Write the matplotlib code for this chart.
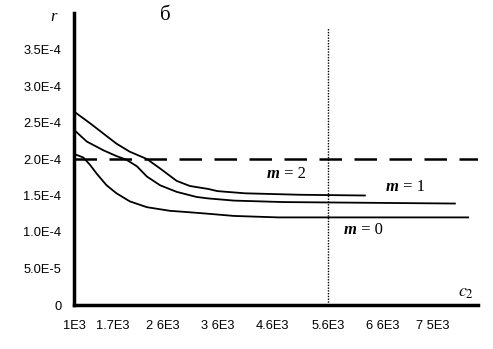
import matplotlib
matplotlib.use("Agg")
import matplotlib.pyplot as plt

# ---- data ----
m0_x = [1000, 1170, 1290, 1410, 1590, 1770, 2010, 2320, 2740, 3100, 3430, 3900, 4700, 8140]
m0_y = [2.07e-4, 2.02e-4, 1.92e-4, 1.80e-4, 1.64e-4, 1.53e-4, 1.42e-4, 1.34e-4, 1.29e-4,
        1.27e-4, 1.25e-4, 1.22e-4, 1.20e-4, 1.20e-4]
m1_x = [1000, 1230, 1530, 1770, 1950, 2140, 2320, 2560, 2860, 3220, 3430, 3900, 4800, 7900]
m1_y = [2.40e-4, 2.24e-4, 2.12e-4, 2.04e-4, 1.99e-4, 1.90e-4, 1.76e-4, 1.64e-4, 1.55e-4,
        1.48e-4, 1.46e-4, 1.43e-4, 1.41e-4, 1.39e-4]
m2_x = [1000, 1290, 1530, 1770, 2010, 2320, 2560, 2860, 3100, 3430, 3600, 4100, 5100, 6270]
m2_y = [2.65e-4, 2.49e-4, 2.35e-4, 2.21e-4, 2.10e-4, 2.00e-4, 1.87e-4, 1.70e-4, 1.63e-4,
        1.59e-4, 1.56e-4, 1.53e-4, 1.51e-4, 1.50e-4]
threshold_r = 2.0e-4
marker_c2 = 5600
x_ticks = [1000, 1700, 2600, 3600, 4600, 5600, 6600, 7500]
x_tick_labels = ["1E3", "1.7E3", "2 6E3", "3 6E3", "4.6E3", "5.6E3", "6 6E3", "7 5E3"]
y_ticks = [0, 5.0e-5, 1.0e-4, 1.5e-4, 2.0e-4, 2.5e-4, 3.0e-4, 3.5e-4]
y_tick_labels = ["0", "5.0E-5", "1.0E-4", "1.5E-4", "2.0E-4", "2.5E-4", "3.0E-4", "3.5E-4"]
curve_labels = ["2", "1", "0"]

W, H = 493, 349
fig = plt.figure(figsize=(W / 100, H / 100), dpi=100)
ax = fig.add_axes([74 / W, 1 - 305 / H, 404 / W, 292 / H])

for xs, ys in [(m0_x, m0_y), (m1_x, m1_y), (m2_x, m2_y)]:
    ax.plot(xs, ys, color="black", lw=1.3)

ax.axhline(threshold_r, color="black", lw=1.8, ls=(0, (9, 5)))
ax.plot([marker_c2, marker_c2], [0, 3.8e-4], color="black", lw=1.0, ls=(0, (1, 1)))

ax.set_xlim(1000, 8319)
ax.set_ylim(0, 4.0e-4)
ax.set_xticks(x_ticks)
ax.set_xticklabels(x_tick_labels, fontsize=9.3, family="Liberation Sans")
ax.set_yticks(y_ticks)
ax.set_yticklabels(y_tick_labels, fontsize=9.3, family="Liberation Sans")
ax.tick_params(axis="y", length=0, pad=9)
ax.tick_params(axis="x", length=0, pad=11)

for s in ["top", "right"]:
    ax.spines[s].set_visible(False)
for s in ["left", "bottom"]:
    ax.spines[s].set_linewidth(2.5)

serif = "Liberation Serif"
fig.text(54 / W, 1 - 17 / H, "r", fontsize=12, style="italic", family=serif,
         ha="center", va="center")
fig.text(165 / W, 1 - 15 / H, "б", fontsize=15, family=serif, ha="center", va="center")
fig.text(466 / W, 1 - 292 / H, r"$c_2$", fontsize=13, ha="center", va="center",
         math_fontfamily="stix")
for txt, px, py in zip(curve_labels, [289, 408, 366], [174, 187, 230]):
    fig.text((px - 9) / W, 1 - py / H, "m", fontsize=12, family=serif, style="italic",
             weight="bold", ha="right", va="center")
    fig.text((px - 9) / W, 1 - py / H, " = " + txt, fontsize=12, family=serif,
             ha="left", va="center")

fig.savefig("out.png", dpi=100)
